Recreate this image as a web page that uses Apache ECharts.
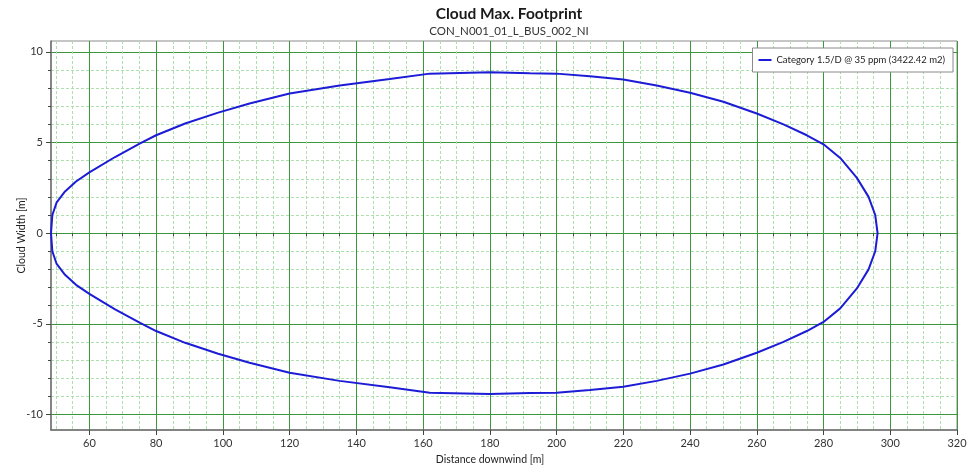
<!DOCTYPE html>
<html>
<head>
<meta charset="utf-8">
<script src="https://cdn.jsdelivr.net/npm/echarts@6/dist/echarts.min.js"></script>
<style>html,body{margin:0;padding:0;background:#fff;}#chart{width:975px;height:470px;}</style>
</head>
<body>
<div id="chart"></div>
<script>
// ---- data ----
const chartTitle = 'Cloud Max. Footprint';
const chartSubtitle = 'CON_N001_01_L_BUS_002_NI';
const seriesName = 'Category 1.5/D @ 35 ppm (3422.42 m2)';
const xAxisName = 'Distance downwind [m]';
const yAxisName = 'Cloud Width [m]';

// downwind distance of footprint vertices (m)
const footprintX = [48.5, 48.9, 50.2, 52.7, 56, 60, 67.7, 75.2, 80, 88.7, 98.6, 108, 120, 135, 150, 162, 180, 192, 200, 210, 220, 230, 240, 250, 260, 268, 275, 280, 285, 290, 293.5, 295.5, 296.2];
// upper edge of footprint (m)
const footprintUpper = [0, 1.0, 1.7, 2.3, 2.85, 3.35, 4.2, 4.95, 5.4, 6.05, 6.65, 7.15, 7.7, 8.15, 8.5, 8.8, 8.88, 8.82, 8.8, 8.65, 8.47, 8.15, 7.75, 7.25, 6.6, 6.0, 5.4, 4.9, 4.15, 3.05, 2.0, 1.0, 0];
// lower edge of footprint (m)
const footprintLower = [0, -1.0, -1.7, -2.3, -2.85, -3.35, -4.2, -4.95, -5.4, -6.05, -6.65, -7.15, -7.7, -8.15, -8.5, -8.8, -8.88, -8.82, -8.8, -8.65, -8.47, -8.15, -7.75, -7.25, -6.6, -6.0, -5.4, -4.9, -4.15, -3.05, -2.0, -1.0, 0];

// axis ranges and tick values
const xRange = [48.5, 320];
const yRange = [-10.86, 10.6];
const xMajorTicks = [60, 80, 100, 120, 140, 160, 180, 200, 220, 240, 260, 280, 300, 320];
const xMinorTicks = [50, 55, 65, 70, 75, 85, 90, 95, 105, 110, 115, 125, 130, 135, 145, 150, 155, 165, 170, 175, 185, 190, 195, 205, 210, 215, 225, 230, 235, 245, 250, 255, 265, 270, 275, 285, 290, 295, 305, 310, 315];
const yMajorTicks = [-10, -5, 0, 5, 10];
const yMinorTicks = [-9, -8, -7, -6, -4, -3, -2, -1, 1, 2, 3, 4, 6, 7, 8, 9];

// ---- build closed outline: upper edge left->right, lower edge right->left ----
const outline = [];
for (let i = 0; i < footprintX.length; i++) outline.push([footprintX[i], footprintUpper[i]]);
for (let i = footprintX.length - 1; i >= 0; i--) outline.push([footprintX[i], footprintLower[i]]);

const FONT = 'Lato';
const majorGrid = '#3c963c';
const minorGrid = '#ade0ad';
const axisColor = '#6f6f6f';
const tickColor = '#444444';
const lineColor = '#1c1cd6';

function minorAxis(range, ticks) {
  return {
    type: 'value', min: range[0], max: range[1],
    axisLine: {show: false},
    axisLabel: {show: false},
    axisTick: {show: true, length: 3, customValues: ticks, lineStyle: {color: tickColor, width: 1}},
    splitLine: {show: true, lineStyle: {color: minorGrid, width: 1, type: [3, 2]}},
    minorTick: {show: false}, minorSplitLine: {show: false}
  };
}
function majorAxis(range, ticks, name, extra) {
  return Object.assign({
    type: 'value', min: range[0], max: range[1],
    name: name, nameLocation: 'middle', nameMoveOverlap: false,
    axisLine: {show: true, onZero: false, lineStyle: {color: axisColor, width: 1.5}},
    axisTick: {show: true, length: 5, customValues: ticks, lineStyle: {color: tickColor, width: 1}},
    axisLabel: {fontFamily: FONT, fontSize: 11, color: '#333', margin: 8, customValues: ticks},
    splitLine: {show: true, lineStyle: {color: majorGrid, width: 1}},
    minorTick: {show: false}, minorSplitLine: {show: false}
  }, extra);
}

const chart = echarts.init(document.getElementById('chart'), null, {renderer: 'canvas'});
chart.setOption({
  animation: false,
  backgroundColor: '#ffffff',
  title: {
    text: chartTitle, subtext: chartSubtitle,
    left: 504, textAlign: 'center', top: 1, itemGap: 3,
    textStyle: {fontFamily: FONT, fontSize: 15.5, fontWeight: 'bold', color: '#1a1a1a'},
    subtextStyle: {fontFamily: FONT, fontSize: 11.5, color: '#333333'}
  },
  legend: {
    right: 22, top: 48, orient: 'vertical',
    backgroundColor: '#ffffff', borderColor: '#8a8a8a', borderWidth: 1, borderRadius: 0,
    padding: [7, 8, 7, 6],
    icon: 'rect', itemWidth: 13, itemHeight: 2,
    textStyle: {fontFamily: FONT, fontSize: 9.5, color: '#222'},
    data: [seriesName]
  },
  grid: {
    left: 51, right: 18, top: 41, bottom: 38,
    show: true, borderColor: '#8c8c8c', borderWidth: 1, backgroundColor: 'transparent'
  },
  xAxis: [
    minorAxis(xRange, xMinorTicks),
    majorAxis(xRange, xMajorTicks, xAxisName, {
      position: 'bottom', nameGap: 24,
      nameTextStyle: {fontFamily: FONT, fontSize: 10.5, color: '#222', padding: [0, 28, 0, 0]}
    })
  ],
  yAxis: [
    minorAxis(yRange, yMinorTicks),
    majorAxis(yRange, yMajorTicks, yAxisName, {
      position: 'left', nameGap: 24, nameRotate: 90,
      nameTextStyle: {fontFamily: FONT, fontSize: 10.5, color: '#222'}
    })
  ],
  series: [{
    name: seriesName, type: 'line', data: outline,
    xAxisIndex: 1, yAxisIndex: 1,
    symbol: 'none', smooth: false, clip: true,
    lineStyle: {color: lineColor, width: 2}, itemStyle: {color: lineColor}
  }]
});
</script>
</body>
</html>
